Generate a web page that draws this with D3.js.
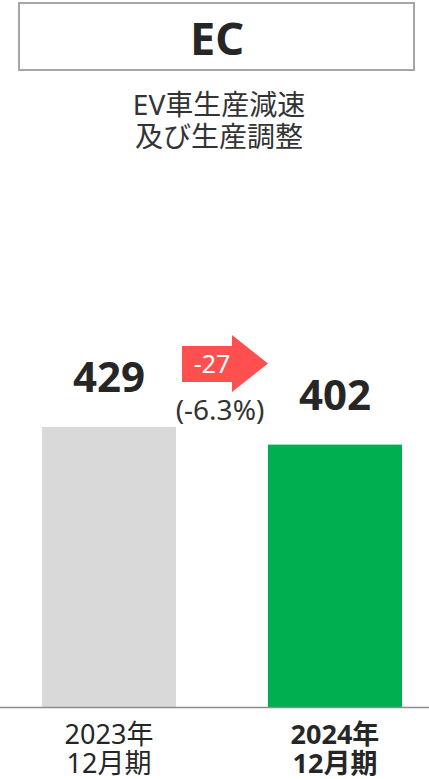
<!DOCTYPE html>
<html>
<head>
<meta charset="utf-8">
<script src="https://cdn.jsdelivr.net/npm/d3@7"></script>
<style>
  body { margin: 0; background: #fff; overflow: hidden; }
  text { font-family: "Noto Sans", "Noto Sans CJK JP", sans-serif; }
</style>
</head>
<body>
<div id="chart"></div>
<script>
const periods = ["2023年\n12月期", "2024年\n12月期"];
const values = [429, 402];
const barColors = ["#d9d9d9", "#00b050"];
const diffLabel = "-27";
const pctLabel = "(-6.3%)";
const title = "EC";
const subtitle = ["EV車生産減速", "及び生産調整"];

const width = 429, height = 779;
const svg = d3.create("svg")
    .attr("width", width)
    .attr("height", height)
    .style("display", "block");

// title box
svg.append("rect")
    .attr("x", 19).attr("y", 3)
    .attr("width", 395).attr("height", 67)
    .attr("fill", "#fff")
    .attr("stroke", "#a6a6a6")
    .attr("stroke-width", 2);
svg.append("text")
    .attr("x", 217).attr("y", 55)
    .attr("text-anchor", "middle")
    .attr("font-size", 45)
    .attr("font-weight", "bold")
    .attr("fill", "#262626")
    .text(title);

svg.append("g").selectAll("text")
    .data(subtitle)
    .enter().append("text")
    .attr("x", 219)
    .attr("y", (d, i) => 115 + i * 32)
    .attr("text-anchor", "middle")
    .attr("font-size", 28)
    .attr("fill", "#333")
    .text(d => d);

// scales
const baseY = 707;
const x = d3.scaleBand()
    .domain(periods)
    .range([42, 402])
    .paddingInner(0.407)
    .paddingOuter(0);
const y = d3.scaleLinear()
    .domain([0, 429])
    .range([baseY, 427]);

// bars
svg.append("g").selectAll("rect")
    .data(values)
    .enter().append("rect")
    .attr("x", (d, i) => x(periods[i]))
    .attr("y", d => y(d))
    .attr("width", x.bandwidth())
    .attr("height", d => baseY - y(d))
    .attr("fill", (d, i) => barColors[i]);

// value labels
svg.append("g").selectAll("text")
    .data(values)
    .enter().append("text")
    .attr("x", (d, i) => x(periods[i]) + x.bandwidth() / 2)
    .attr("y", d => y(d) - 35)
    .attr("text-anchor", "middle")
    .attr("font-size", 42)
    .attr("font-weight", "bold")
    .attr("fill", "#262626")
    .text(d => d);

// axis line
svg.append("line")
    .attr("x1", 0).attr("x2", width)
    .attr("y1", baseY + 0.5).attr("y2", baseY + 0.5)
    .attr("stroke", "#8c8c8c")
    .attr("stroke-width", 1.5);

// category labels
const cat = svg.append("g").selectAll("text")
    .data(periods)
    .enter().append("text")
    .attr("text-anchor", "middle")
    .attr("font-size", 27)
    .attr("fill", "#262626")
    .attr("font-weight", (d, i) => i === 1 ? "bold" : "normal");
cat.selectAll("tspan")
    .data(d => d.split("\n").map(s => ({ s, d })))
    .enter().append("tspan")
    .attr("x", o => x(o.d) + x.bandwidth() / 2)
    .attr("y", (o, j) => 744 + j * 29)
    .text(o => o.s);

// change arrow
const arrow = d3.path();
arrow.moveTo(182, 346);
arrow.lineTo(232, 346);
arrow.lineTo(232, 335);
arrow.lineTo(268, 363.5);
arrow.lineTo(232, 392);
arrow.lineTo(232, 382);
arrow.lineTo(182, 382);
arrow.closePath();
svg.append("path")
    .attr("d", arrow.toString())
    .attr("fill", "#ff4f4f");
svg.append("text")
    .attr("x", 212).attr("y", 373)
    .attr("text-anchor", "middle")
    .attr("font-size", 25)
    .attr("fill", "#fff")
    .text(diffLabel);
svg.append("text")
    .attr("x", 220).attr("y", 420)
    .attr("text-anchor", "middle")
    .attr("font-size", 28)
    .attr("fill", "#333")
    .text(pctLabel);

document.getElementById("chart").appendChild(svg.node());
</script>
</body>
</html>
